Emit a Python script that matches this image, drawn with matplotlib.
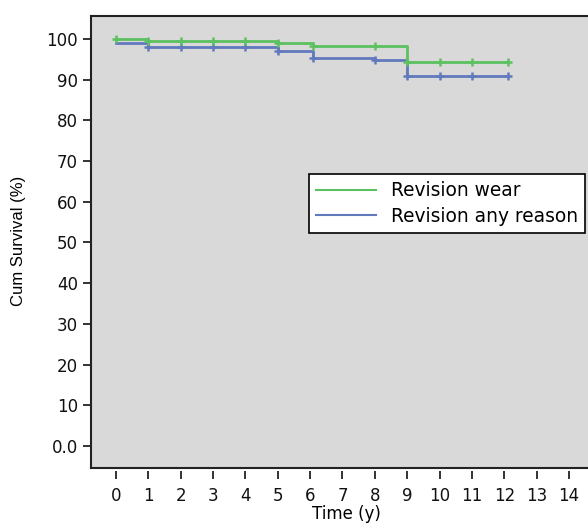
import matplotlib.pyplot as plt

plt.rcParams['font.family'] = ['DejaVu Sans']

# Kaplan-Meier step data (time in years, cumulative survival in %)
wear_t = [0, 1.0, 5.0, 6.1, 9.0, 12.1]
wear_s = [100, 99.5, 99.0, 98.3, 94.2, 94.2]
wear_cens_t = [0, 1, 2, 3, 4, 5, 6.1, 8, 9, 10, 11, 12.1]

any_t = [0, 1.0, 5.0, 6.1, 8.0, 9.0, 12.1]
any_s = [98.9, 98.1, 97.1, 95.3, 94.8, 90.9, 90.9]
any_cens_t = [1, 2, 3, 4, 5, 6.1, 8, 9, 10, 11, 12.1]

xticks = list(range(0, 15))
yticks = [0, 10, 20, 30, 40, 50, 60, 70, 80, 90, 100]
ylabels = ["0.0"] + [str(v) for v in yticks[1:]]

green = "#5cc160"
blue = "#6279bd"


def step_value(ts, ss, x):
    v = ss[0]
    for t, s in zip(ts, ss):
        if x >= t:
            v = s
    return v


fig = plt.figure(figsize=(5.88, 5.24), dpi=100)
ax = fig.add_axes([0.1548, 0.1069, 0.8680, 0.8626])
ax.set_facecolor("#d9d9d9")

ax.step(any_t, any_s, where="post", color=blue, lw=2, label="Revision any reason")
ax.plot(any_cens_t, [step_value(any_t, any_s, x) for x in any_cens_t],
        ls="none", marker="+", ms=6, mew=1.8, color=blue)
ax.step(wear_t, wear_s, where="post", color=green, lw=2, label="Revision wear")
ax.plot(wear_cens_t, [step_value(wear_t, wear_s, x) for x in wear_cens_t],
        ls="none", marker="+", ms=6, mew=1.8, color=green)

ax.set_xlim(-0.77, 15.0)
ax.set_ylim(-5.4, 105.6)
ax.set_xticks(xticks)
ax.set_yticks(yticks)
ax.set_yticklabels(ylabels)
ax.tick_params(labelsize=12, width=1.2, length=6, colors="#111111")
ax.tick_params(axis="x", pad=6)

ax.spines["bottom"].set_position(("outward", 2))
ax.spines["bottom"].set_visible(False)
ax.plot([0, 1], [0, 0], transform=ax.transAxes, color="#222222", lw=1.5, clip_on=False)
for s in ["left", "top", "right"]:
    ax.spines[s].set_linewidth(1.5)
    ax.spines[s].set_color("#222222")

ax.set_xlabel("Time (y)", fontsize=12, labelpad=0)
ax.set_ylabel("Cum Survival (%)", fontsize=12, family="Liberation Sans")
ax.yaxis.set_label_coords(-0.128, 0.502)

handles, labels = ax.get_legend_handles_labels()
leg = fig.legend(handles[::-1], labels[::-1], loc="upper left",
                 bbox_to_anchor=(0.5255, 0.668), borderaxespad=0,
                 fancybox=False, edgecolor="black", fontsize=13.4,
                 handlelength=3.2, framealpha=1, labelspacing=0.35)
leg.get_frame().set_facecolor("white")
leg.get_frame().set_linewidth(1.2)
for line in leg.get_lines():
    line.set_linewidth(1.5)

plt.savefig("out.png", dpi=100)
